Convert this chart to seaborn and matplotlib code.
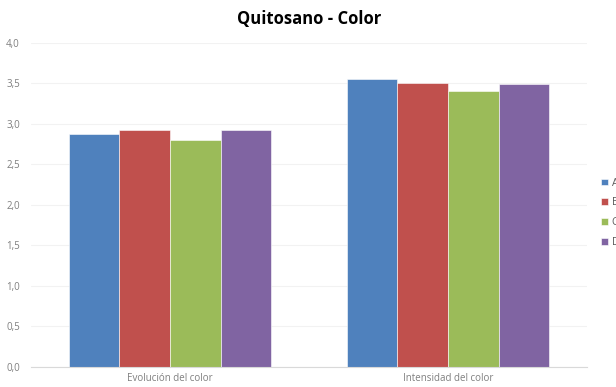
import matplotlib
matplotlib.use("Agg")
import matplotlib.pyplot as plt
from matplotlib.ticker import FuncFormatter, MultipleLocator
import seaborn as sns
import pandas as pd

categories = ["Evolución del color", "Intensidad del color"]
series = ["A", "B", "C", "D"]
values_A = [2.88, 3.56]
values_B = [2.93, 3.50]
values_C = [2.80, 3.41]
values_D = [2.93, 3.49]
colors = ["#4F81BD", "#C0504D", "#9BBB59", "#8064A2"]

rows = []
for name, vals in zip(series, [values_A, values_B, values_C, values_D]):
    for cat, v in zip(categories, vals):
        rows.append({"categoria": cat, "serie": name, "valor": v})
df = pd.DataFrame(rows)

sns.set_theme(style="white")
plt.rcParams["font.family"] = ["Open Sans", "DejaVu Sans"]

fig = plt.figure(figsize=(6.16, 3.87), dpi=100)
ax = fig.add_axes([0.0503, 0.0517, 0.9026, 0.8373])

sns.barplot(data=df, x="categoria", y="valor", hue="serie", palette=colors,
            width=0.727, gap=0, saturation=1, ax=ax, legend=True,
            edgecolor="white", linewidth=0.4)

ax.set_ylim(0, 4.0)
ax.set_xlim(-0.5, 1.5)
ax.yaxis.set_major_locator(MultipleLocator(0.5))
ax.yaxis.set_major_formatter(FuncFormatter(lambda v, p: f"{v:.1f}".replace(".", ",")))
ax.grid(axis="y", color="#F2F2F2", linewidth=0.8)
ax.set_axisbelow(True)
for s in ["top", "right", "left"]:
    ax.spines[s].set_visible(False)
ax.spines["bottom"].set_color("#D9D9D9")
ax.spines["bottom"].set_linewidth(0.8)
ax.set_xlabel("")
ax.set_ylabel("")
ax.tick_params(axis="both", length=0, labelsize=7, colors="#7F7F7F", pad=4)
ax.tick_params(axis="y", pad=8)

ax.set_title("Quitosano - Color", fontsize=12, fontweight="bold", color="#000000", pad=14)

ax.legend(loc="center left", bbox_to_anchor=(0.961, 0.45), bbox_transform=fig.transFigure,
          frameon=False, fontsize=7.5, handlelength=0.6, handleheight=0.6,
          handletextpad=0.4, labelspacing=0.85, labelcolor="#595959")

fig.savefig("out.png", dpi=100)
